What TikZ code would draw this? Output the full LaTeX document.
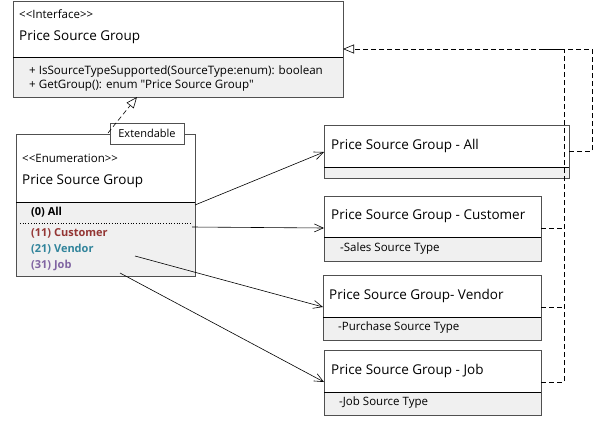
\documentclass[tikz,border=0pt]{standalone}
\usepackage{fontspec}
\setmainfont{Open Sans}[Ligatures=TeXOff]
\usetikzlibrary{arrows.meta}
\definecolor{cmpfill}{HTML}{F0F0F0}
\definecolor{boxline}{HTML}{505050}
\definecolor{cust}{HTML}{943634}
\definecolor{vend}{HTML}{31849B}
\definecolor{job}{HTML}{8064A2}
\tikzset{hdr/.style={draw=boxline,line width=0.9pt,fill=white,anchor=north west,inner sep=0pt,outer sep=0pt},cmp/.style={hdr,fill=cmpfill},txt/.style={anchor=west,inner sep=0pt,font=\fontsize{11.5}{13}\selectfont},ttl/.style={anchor=west,inner sep=0pt,font=\fontsize{13.5}{15}\selectfont},stereo/.style={anchor=west,inner sep=0pt,font=\fontsize{11.5}{13}\selectfont},item/.style={txt,font=\fontsize{11}{13}\selectfont\bfseries},assoc/.style={-{Straight Barb[length=9pt,width=8pt]},line width=0.6pt},real/.style={-{Triangle[open,length=11pt,width=9pt]},dash pattern=on 5pt off 3pt,line width=0.6pt},dsh/.style={dash pattern=on 5pt off 3pt,line width=0.6pt}}

\begin{document}
\begin{tikzpicture}[x=1pt,y=-1pt]
\useasboundingbox (0,0) rectangle (607,434);
% interface
\node[hdr,minimum width=330,minimum height=56] (iface) at (13,1) {};
\node[cmp,minimum width=330,minimum height=40] (ifaceops) at (13,57) {};
\draw (ifaceops.north west) -- (ifaceops.north east);
\node[stereo] (ifacest) at (19,14) {<<Interface>>};
\node[ttl] (ifacename) at (19,37) {Price Source Group};
\node[txt,font=\fontsize{11.6}{13}\selectfont] (op1) at (29,71) {+ IsSourceTypeSupported(SourceType:enum): boolean};
\node[txt,font=\fontsize{11.6}{13}\selectfont] (op2) at (29,86) {+ GetGroup(): enum "Price Source Group"};
% enumeration
\node[hdr,minimum width=179,minimum height=68] (enum) at (16,134) {};
\node[cmp,minimum width=179,minimum height=74] (enumvals) at (16,202) {};
\draw (enumvals.north west) -- (enumvals.north east);
\draw[dotted,line width=0.7pt] (20,223) -- (192,223);
\node[stereo] (enumst) at (22,158) {<<Enumeration>>};
\node[ttl] (enumname) at (22,181) {Price Source Group};
\node[item] (vall) at (31,212) {(0) All};
\node[item,text=cust] (vcust) at (31,233) {(11) Customer};
\node[item,text=vend] (vvend) at (31,249) {(21) Vendor};
\node[item,text=job] (vjob) at (31,265) {(31) Job};
\node[hdr,minimum width=74,minimum height=21,font=\fontsize{11}{13}\selectfont] (ext) at (110,123) {Extendable};
% price source group classes
\node[hdr,minimum width=245,minimum height=42] (all) at (324,125) {};
\node[cmp,minimum width=245,minimum height=11] (allops) at (324,167) {};
\draw (allops.north west) -- (allops.north east);
\node[ttl] (allname) at (331,146) {Price Source Group - All};
\node[hdr,minimum width=217,minimum height=41] (cst) at (324,196) {};
\node[cmp,minimum width=217,minimum height=24] (cstops) at (324,237) {};
\draw (cstops.north west) -- (cstops.north east);
\node[ttl] (cstname) at (331,216) {Price Source Group - Customer};
\node[txt] (cstattr) at (340,249) {-Sales Source Type};
\node[hdr,minimum width=218,minimum height=42] (vnd) at (323,275) {};
\node[cmp,minimum width=218,minimum height=23] (vndops) at (323,317) {};
\draw (vndops.north west) -- (vndops.north east);
\node[ttl] (vndname) at (329,296) {Price Source Group- Vendor};
\node[txt] (vndattr) at (338,328) {-Purchase Source Type};
\node[hdr,minimum width=217,minimum height=42] (jb) at (324,350) {};
\node[cmp,minimum width=217,minimum height=23] (jbops) at (324,392) {};
\draw (jbops.north west) -- (jbops.north east);
\node[ttl] (jbname) at (331,371) {Price Source Group - Job};
\node[txt] (jbattr) at (339,403) {-Job Source Type};
% connector ends
\coordinate (ifacein) at (343,49);
\coordinate (ifacebot) at (137,97);
\coordinate (extout) at (108,133);
\coordinate (allsrc) at (195,205);
\coordinate (cstsrc) at (192,227);
\coordinate (vndsrc) at (135,256);
\coordinate (jbsrc) at (120,273);
\coordinate (allin) at (324,152);
\coordinate (cstin) at (324,228);
\coordinate (vndin) at (323,307);
\coordinate (jbin) at (324,382);
\coordinate (allout) at (569,151);
\coordinate (cstout) at (541,228);
\coordinate (vndout) at (541,307);
\coordinate (jbout) at (541,382);
% associations
\draw[assoc] (allsrc) -- (allin);
\draw[assoc] (cstsrc) -- (cstin);
\draw[assoc] (vndsrc) -- (vndin);
\draw[assoc] (jbsrc) -- (jbin);
% realizations
\draw[real] (extout) -- (ifacebot);
\draw[real] (jbout) -- ++(23,0) |- (ifacein);
\draw[dsh] (cstout) -- ++(23,0);
\draw[dsh] (vndout) -- ++(23,0);
\draw[dsh] (allout) -- ++(23,0) |- ([xshift=-28pt]allout |- ifacein);
\end{tikzpicture}
\end{document}
